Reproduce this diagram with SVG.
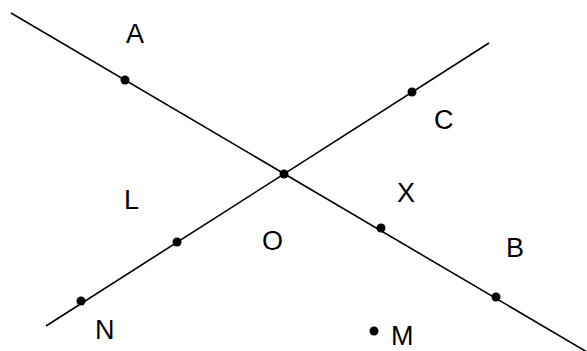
<svg xmlns="http://www.w3.org/2000/svg" width="587" height="351" viewBox="0 0 587 351">
<style>
.ln{stroke:#000;stroke-width:1.6;fill:none}
.pt{fill:#000}
.lb{font-family:"Liberation Sans",Arial,sans-serif;font-size:27px;fill:#000}
</style>
<rect width="587" height="351" fill="#fff"/>
<g id="connectors">
<line class="ln" x1="11" y1="13" x2="587" y2="352"/>
<line class="ln" x1="46" y1="326" x2="489" y2="43"/>
</g>
<g id="A"><circle class="pt" cx="125" cy="80" r="4.5"/><text class="lb" x="126" y="43">A</text></g>
<g id="O"><circle class="pt" cx="284" cy="174" r="4.5"/><text class="lb" x="262" y="250">O</text></g>
<g id="X"><circle class="pt" cx="381" cy="228" r="4.5"/><text class="lb" x="397" y="202">X</text></g>
<g id="B"><circle class="pt" cx="496" cy="297" r="4.5"/><text class="lb" x="506" y="257">B</text></g>
<g id="N"><circle class="pt" cx="81" cy="301" r="4.5"/><text class="lb" x="95" y="339">N</text></g>
<g id="L"><circle class="pt" cx="177" cy="242" r="4.5"/><text class="lb" x="124" y="209">L</text></g>
<g id="C"><circle class="pt" cx="412" cy="92" r="4.5"/><text class="lb" x="434" y="129">C</text></g>
<g id="M"><circle class="pt" cx="374" cy="331" r="4.5"/><text class="lb" x="391" y="345">M</text></g>
</svg>
